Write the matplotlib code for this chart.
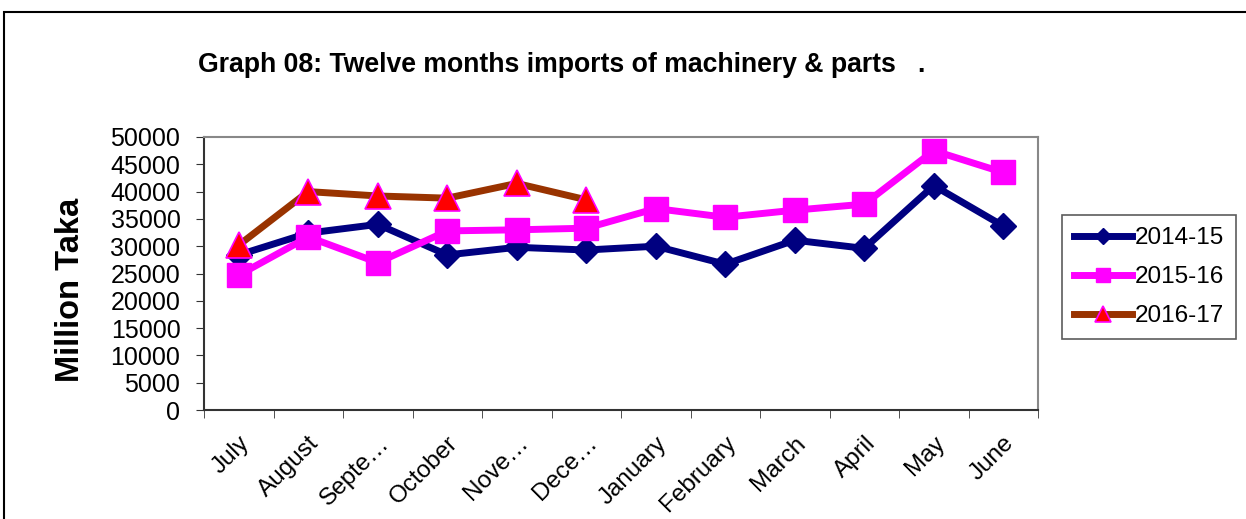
import matplotlib.pyplot as plt
from matplotlib.patches import Rectangle
import numpy as np

plt.rcParams['font.family'] = ['Liberation Sans', 'DejaVu Sans']

# data
months = ['July', 'August', 'Septe…', 'October', 'Nove…', 'Dece…',
          'January', 'February', 'March', 'April', 'May', 'June']
fy_2014_15 = [28400, 32400, 34000, 28400, 29800, 29300,
              30000, 26700, 31100, 29600, 41100, 33700]
fy_2015_16 = [24700, 31700, 27000, 32800, 33000, 33300,
              36900, 35300, 36600, 37700, 47500, 43500]
fy_2016_17 = [30200, 40000, 39200, 38800, 41500, 38500]
y_ticks = list(range(0, 50001, 5000))

fig = plt.figure(figsize=(12.46, 5.19), dpi=100)
ax = fig.add_axes([204 / 1246, 109 / 519, 834 / 1246, 273 / 519])

x = np.arange(len(months))
ax.plot(x, fy_2014_15, color='#000080', lw=5, marker='D', markersize=13,
        markerfacecolor='#000080', markeredgecolor='#000080', label='2014-15', zorder=3)
ax.plot(x, fy_2015_16, color='#ff00ff', lw=5, marker='s', markersize=17,
        markerfacecolor='#ff00ff', markeredgecolor='#ff00ff', label='2015-16', zorder=4)
ax.plot(x[:len(fy_2016_17)], fy_2016_17, color='#993300', lw=5, marker='^', markersize=19,
        markerfacecolor='#ff0000', markeredgecolor='#ff00ff', markeredgewidth=1.2,
        label='2016-17', zorder=5)

ax.set_xlim(-0.5, len(months) - 0.5)
ax.set_ylim(0, 50000)
ax.set_yticks(y_ticks)
ax.set_yticklabels([str(v) for v in y_ticks], fontsize=18)
ax.set_xticks(x)
ax.set_xticklabels(months, rotation=45, ha='right', rotation_mode='anchor', fontsize=17.5)
ax.tick_params(axis='x', length=0, pad=16)
ax.set_xticks(np.arange(-0.5, len(months), 1), minor=True)
ax.tick_params(axis='x', which='minor', length=6, direction='out', color='#333333')
ax.tick_params(axis='y', length=6, direction='out', color='#333333', pad=11)

for side in ['top', 'right']:
    ax.spines[side].set_color('#888888')
    ax.spines[side].set_linewidth(1.5)
for side in ['left', 'bottom']:
    ax.spines[side].set_color('#333333')
    ax.spines[side].set_linewidth(1.5)

ax.set_ylabel('Million Taka', fontsize=23.5, fontweight='bold')
ax.yaxis.set_label_coords(-0.142, 0.44)

fig.text(198 / 1246, 1 - 65 / 519, 'Graph 08: Twelve months imports of machinery & parts   .',
         fontsize=19.2, fontweight='bold', ha='left', va='center')

leg = ax.legend(loc='center left', bbox_to_anchor=(1062 / 1246, 0.466),
                bbox_transform=fig.transFigure, fontsize=17.5, frameon=True,
                fancybox=False, edgecolor='#333333', handlelength=2.4,
                handletextpad=0.1, borderpad=0.5, labelspacing=0.7,
                borderaxespad=0, markerscale=0.6)
leg.get_frame().set_linewidth(1.2)

# outer border of the chart area
fig.patches.append(Rectangle((4 / 1246, -0.1), 1.2, 1 - 12 / 519 + 0.1,
                             transform=fig.transFigure, fill=False,
                             edgecolor='black', linewidth=1.5))

fig.savefig('out.png', dpi=100)
